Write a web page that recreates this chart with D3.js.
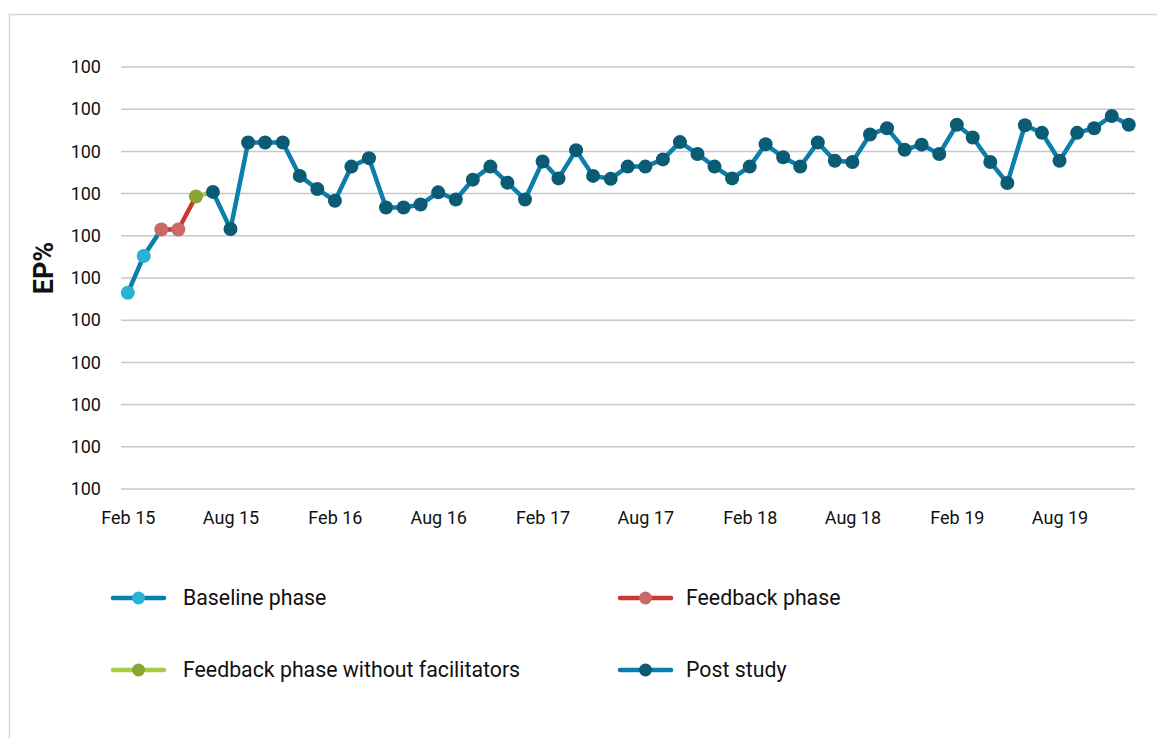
<!doctype html>
<html lang="en">
<head>
  <meta charset="utf-8">
  <title>EP%</title>
  <script src="https://cdn.jsdelivr.net/npm/d3@7"></script>
  <style>
    body { margin: 0; background: #fff; }
    svg text { font-family: Roboto, "Liberation Sans", sans-serif; fill: #111; }
  </style>
</head>
<body>
<div id="chart"></div>
<script>
// months Feb 15 .. Dec 19
const months = d3.timeMonth.range(new Date(2015, 1, 1), new Date(2020, 0, 1));

const baseline = [46.5, 55.2];
const feedback = [61.5, 61.5];
const noFacilitators = [69.3];
const postStudy = [70.4, 61.6, 82.1, 82.1, 82.1, 74.2, 71.1, 68.3, 76.4, 78.4,
  66.7, 66.7, 67.4, 70.3, 68.6, 73.3, 76.4, 72.6, 68.6, 77.6,
  73.6, 80.3, 74.2, 73.5, 76.4, 76.4, 78.1, 82.2, 79.4, 76.4,
  73.6, 76.4, 81.7, 78.6, 76.4, 82.1, 77.8, 77.5, 84.0, 85.5,
  80.4, 81.6, 79.4, 86.3, 83.3, 77.5, 72.5, 86.2, 84.4, 77.8,
  84.4, 85.5, 88.4, 86.3];

const yTicks = [0, 10, 20, 30, 40, 50, 60, 70, 80, 90, 100];
const yTickLabels = ["100", "100", "100", "100", "100", "100", "100", "100", "100", "100", "100"];

const seriesNames = ["Baseline phase", "Feedback phase", "Feedback phase without facilitators", "Post study"];
const lineColors = ["#0b7fab", "#c63a30", "#a9cb48", "#0b7fab"];
const dotColors = ["#2ab1d3", "#c96a66", "#8ba534", "#0b5b75"];

const W = 1157, H = 738;
const svg = d3.select('#chart').append('svg')
  .attr('width', W)
  .attr('height', H);

svg.append('rect')
  .attr('x', 9.5).attr('y', 14.5)
  .attr('width', 1170).attr('height', 760)
  .attr('fill', 'none')
  .attr('stroke', '#d4d4d4')
  .attr('stroke-width', 1.5);

const x = d3.scaleTime()
  .domain([new Date(2015, 0, 20), new Date(2019, 11, 12)])
  .range([121, 1135]);

const y = d3.scaleLinear()
  .domain([0, 100])
  .range([489, 67]);

// gridlines
svg.append('g')
  .selectAll('line')
  .data(yTicks)
  .join('line')
    .attr('x1', 121)
    .attr('x2', 1135)
    .attr('y1', d => y(d))
    .attr('y2', d => y(d))
    .attr('stroke', '#c8c8c8')
    .attr('stroke-width', 1.5);

const yAxis = d3.axisLeft(y)
  .tickValues(yTicks)
  .tickSize(0)
  .tickPadding(20)
  .tickFormat((d, i) => yTickLabels[i]);

svg.append('g')
  .attr('transform', 'translate(121,0)')
  .call(yAxis)
  .call(g => g.select('.domain').remove())
  .selectAll('text')
    .style('font-size', '18px')
    .attr('fill', '#111');

const xAxis = d3.axisBottom(x)
  .tickValues(months.filter((d, i) => i % 6 === 0))
  .tickSize(0)
  .tickPadding(22)
  .tickFormat(d3.timeFormat('%b %y'));

svg.append('g')
  .attr('transform', 'translate(0,489)')
  .call(xAxis)
  .call(g => g.select('.domain').remove())
  .selectAll('text')
    .style('font-size', '18px')
    .attr('fill', '#111');

svg.append('text')
  .attr('transform', 'translate(53,268) rotate(-90)')
  .attr('text-anchor', 'middle')
  .style('font-size', '27px')
  .style('font-weight', 'bold')
  .text('EP%');

// build series points: each line continues to the first point of the next series
const all = [baseline, feedback, noFacilitators, postStudy];
let start = 0;
const series = all.map((vals, s) => {
  const pts = vals.map((v, i) => ({ date: months[start + i], value: v }));
  start += vals.length;
  return { name: seriesNames[s], pts: pts, idx: s };
});
series.forEach((s, i) => {
  s.linePts = i < series.length - 1 ? s.pts.concat([series[i + 1].pts[0]]) : s.pts;
});

const line = d3.line()
  .x(d => x(d.date))
  .y(d => y(d.value));

svg.append('g')
  .selectAll('path')
  .data(series)
  .join('path')
    .attr('d', d => line(d.linePts))
    .attr('fill', 'none')
    .attr('stroke', d => lineColors[d.idx])
    .attr('stroke-width', 4.5)
    .attr('stroke-linejoin', 'round');

svg.append('g')
  .selectAll('g')
  .data(series)
  .join('g')
    .attr('fill', d => dotColors[d.idx])
  .selectAll('circle')
  .data(d => d.pts)
  .join('circle')
    .attr('cx', d => x(d.date))
    .attr('cy', d => y(d.value))
    .attr('r', 7);

// legend
const legendPos = [[113, 598, 70], [620, 598, 66], [113, 670, 70], [620, 670, 66]];
const legend = svg.append('g')
  .selectAll('g')
  .data(seriesNames)
  .join('g')
    .attr('transform', (d, i) => `translate(${legendPos[i][0]},${legendPos[i][1]})`);

legend.append('line')
  .attr('x1', 0).attr('x2', 51)
  .attr('stroke', (d, i) => lineColors[i])
  .attr('stroke-width', 4.5)
  .attr('stroke-linecap', 'round');

legend.append('circle')
  .attr('cx', 25.5)
  .attr('r', 6.5)
  .attr('fill', (d, i) => dotColors[i]);

legend.append('text')
  .attr('x', (d, i) => legendPos[i][2])
  .attr('dy', '0.35em')
  .style('font-size', '21.3px')
  .text(d => d);
</script>
</body>
</html>
